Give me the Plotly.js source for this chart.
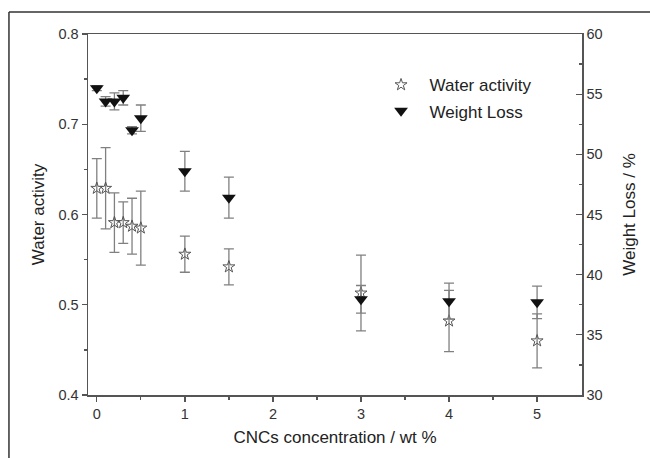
<!DOCTYPE html>
<html>
<head>
<meta charset="utf-8">
<script src="https://cdn.plot.ly/plotly-3.0.1.min.js"></script>
<style>html,body{margin:0;padding:0;background:#fff;}#chart{width:650px;height:458px;}</style>
</head>
<body>
<div id="chart"></div>
<script>
const concentration = [0, 0.1, 0.2, 0.3, 0.4, 0.5, 1, 1.5, 3, 4, 5];
const waterActivity = [0.629, 0.629, 0.591, 0.591, 0.587, 0.585, 0.556, 0.542, 0.513, 0.482, 0.460];
const waterActivityErr = [0.033, 0.045, 0.033, 0.023, 0.031, 0.041, 0.020, 0.020, 0.042, 0.034, 0.030];
const weightLoss = [55.5, 54.4, 54.4, 54.7, 52.0, 53.0, 48.6, 46.4, 37.95, 37.8, 37.7];
const weightLossErr = [0.2, 0.4, 0.7, 0.6, 0.3, 1.1, 1.65, 1.7, 1.15, 1.5, 1.35];

const font = "Liberation Sans, Arial, sans-serif";
const errStyle = {color: '#808080', thickness: 1.3, width: 5};

const traces = [
  {
    x: concentration, y: waterActivity, name: 'Water activity', type: 'scatter', mode: 'markers',
    error_y: Object.assign({type: 'data', array: waterActivityErr, visible: true}, errStyle),
    marker: {symbol: 'star-open', size: 9, color: '#555', line: {width: 1, color: '#555'}},
    legendgroup: 'a', yaxis: 'y'
  },
  {
    x: concentration, y: weightLoss, name: 'Weight Loss', type: 'scatter', mode: 'markers',
    error_y: Object.assign({type: 'data', array: weightLossErr, visible: true}, errStyle),
    marker: {symbol: 'triangle-down', size: 12, color: '#111'},
    legendgroup: 'b', yaxis: 'y2'
  }
];

const layout = {
  width: 650, height: 458,
  margin: {l: 88, r: 68, t: 34, b: 63},
  paper_bgcolor: '#fff', plot_bgcolor: '#fff',
  font: {family: font, color: '#333', size: 14},
  showlegend: true,
  legend: {x: 0.576, y: 0.908, xanchor: 'left', yanchor: 'top', bgcolor: 'rgba(0,0,0,0)',
           font: {size: 17, color: '#222', family: font}, tracegroupgap: 1, traceorder: 'grouped',
           itemwidth: 47},
  xaxis: {
    range: [-0.1, 5.51], showgrid: false, zeroline: false,
    showline: true, linecolor: '#555', linewidth: 1.5, mirror: true,
    ticks: 'outside', ticklen: 5, tickwidth: 1.3, tickcolor: '#555',
    tickvals: [0, 1, 2, 3, 4, 5], ticktext: ['0', '1', '2', '3', '4', '5'],
    minor: {tickvals: [0.5, 1.5, 2.5, 3.5, 4.5], ticklen: 3, tickcolor: '#555', ticks: 'outside'},
    tickfont: {size: 14.5, color: '#333'},
    title: {text: 'CNCs concentration / wt %', font: {size: 17, color: '#222'}, standoff: 10}
  },
  yaxis: {
    range: [0.4, 0.8], showgrid: false, zeroline: false,
    showline: true, linecolor: '#555', linewidth: 1.5,
    ticks: 'outside', ticklen: 5, tickwidth: 1.3, tickcolor: '#555',
    tickvals: [0.4, 0.5, 0.6, 0.7, 0.8], ticktext: ['0.4', '0.5', '0.6', '0.7', '0.8'],
    minor: {tickvals: [0.45, 0.55, 0.65, 0.75], ticklen: 3, tickcolor: '#555', ticks: 'outside'},
    tickfont: {size: 14.5, color: '#333'},
    title: {text: 'Water activity', font: {size: 17, color: '#222'}}
  },
  yaxis2: {
    range: [30, 60], overlaying: 'y', side: 'right', showgrid: false, zeroline: false,
    showline: true, linecolor: '#555', linewidth: 1.5,
    ticks: 'inside', ticklen: 6, tickwidth: 1.3, tickcolor: '#555',
    tickvals: [30, 35, 40, 45, 50, 55, 60], ticktext: ['30', '35', '40', '45', '50', '55', '60'],
    minor: {tickvals: [32.5, 37.5, 42.5, 47.5, 52.5, 57.5], ticklen: 3, tickcolor: '#555', ticks: 'inside'},
    tickfont: {size: 14.5, color: '#333'},
    title: {text: 'Weight Loss / %', font: {size: 17, color: '#222'}}
  },
  shapes: [
    {type: 'line', xref: 'paper', yref: 'paper', x0: -0.16, x1: 1.2, y0: 1.061, y1: 1.061, line: {color: '#333', width: 1.5}},
    {type: 'line', xref: 'paper', yref: 'paper', x0: -0.16, x1: -0.16, y0: 1.061, y1: -0.3, line: {color: '#333', width: 1.5}}
  ]
};

Plotly.newPlot('chart', traces, layout, {displayModeBar: false, staticPlot: true});
</script>
</body>
</html>
